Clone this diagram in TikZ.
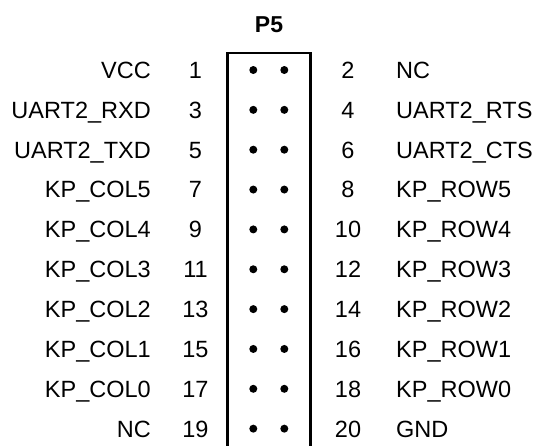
\documentclass[tikz,border=0pt]{standalone}
\usepackage{fontspec}
\setmainfont{Liberation Sans}
\begin{document}
\begin{tikzpicture}[x=1pt,y=-1pt,
  lbl/.style={inner sep=0pt, font=\fontsize{23.5}{28}\selectfont},
  pin/.style={circle, fill=black, inner sep=0pt, minimum size=8pt},
  hdrbox/.style={draw, line width=2.6pt, outer sep=0pt, inner sep=0pt}]
\clip (0,0) rectangle (538,445);
\node[hdrbox, minimum width=83.4pt, minimum height=417pt, anchor=north west] (box) at (227.3,53) {};
\node[inner sep=0pt, anchor=base, font=\fontsize{23}{28}\selectfont\bfseries] (title) at (269,32.3) {P5};
\foreach \l/\n/\m/\r [count=\i from 0] in {
  VCC/1/2/NC,
  UART2\_RXD/3/4/UART2\_RTS,
  UART2\_TXD/5/6/UART2\_CTS,
  KP\_COL5/7/8/KP\_ROW5,
  KP\_COL4/9/10/KP\_ROW4,
  KP\_COL3/11/12/KP\_ROW3,
  KP\_COL2/13/14/KP\_ROW2,
  KP\_COL1/15/16/KP\_ROW1,
  KP\_COL0/17/18/KP\_ROW0,
  NC/19/20/GND}{
  \pgfmathsetmacro\yy{70+39.85*\i}
  \node[lbl, anchor=base east] (l\i) at (151,\yy+8.4) {\l};
  \node[lbl, anchor=base] (nl\i) at (195.5,\yy+8.4) {\n};
  \node[lbl, anchor=base] (nr\i) at (348,\yy+8.4) {\m};
  \node[lbl, anchor=base west] (r\i) at (396,\yy+8.4) {\r};
  \node[pin] (da\i) at (253.3,\yy) {};
  \node[pin] (db\i) at (284.3,\yy) {};
}
\end{tikzpicture}
\end{document}
